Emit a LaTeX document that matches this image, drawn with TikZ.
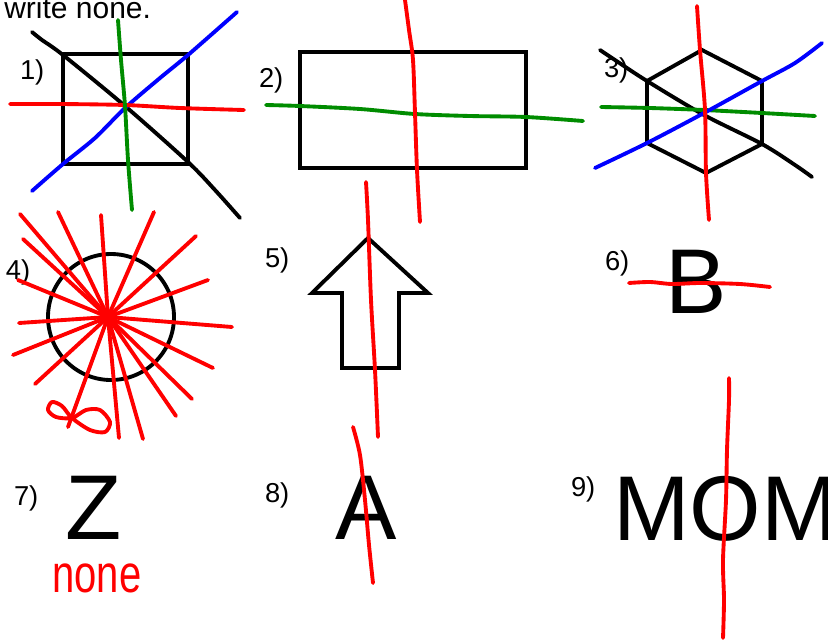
\documentclass[tikz,border=0pt]{standalone}
\usepackage{fontspec}
\setmainfont{Liberation Sans}
\begin{document}
\begin{tikzpicture}[x=0.75pt,y=-0.75pt,
  shapeline/.style={draw=black,line width=2.9pt,line join=miter},
  pen/.style={line width=2.9pt,line cap=round,line join=round},
  redpen/.style={pen,draw={rgb,255:red,255;green,0;blue,0}},
  bluepen/.style={pen,draw={rgb,255:red,0;green,0;blue,255}},
  greenpen/.style={pen,draw={rgb,255:red,0;green,140;blue,0}},
  blackpen/.style={pen,draw=black},
  lbl/.style={anchor=base west,inner sep=0pt,outer sep=0pt,font=\fontsize{20.5}{22}\selectfont},
  big/.style={anchor=base west,inner sep=0pt,outer sep=0pt,font=\fontsize{69}{72}\selectfont}]
\useasboundingbox (0,0) rectangle (828,640);
\fill[white] (0,0) rectangle (828,640);

% title (cut at top)
\node[anchor=base west,inner sep=0pt,font=\fontsize{22.5}{24}\selectfont] (title) at (4,18) {write none.};

% labels
\node[lbl] (l1) at (20,79) {1)};
\node[lbl] (l2) at (259,87) {2)};
\node[lbl] (l3) at (604,77) {3)};
\node[lbl] (l4) at (6,279) {4)};
\node[lbl] (l5) at (265,267) {5)};
\node[lbl] (l6) at (605,270) {6)};
\node[lbl] (l7) at (14,505) {7)};
\node[lbl] (l8) at (265,502) {8)};
\node[lbl] (l9) at (571,496) {9)};

% 1) square
\draw[shapeline] (63,54) rectangle (188,164);
\draw[blackpen] plot[smooth] coordinates {(32,32) (42,40) (63,55) (125,106) (188,162) (215,190) (240,218)};
\draw[bluepen] plot[smooth] coordinates {(32,191) (63,164) (95,138) (125,108) (160,78) (188,55) (237,12)};
\draw[redpen] plot[smooth] coordinates {(10,104) (60,104) (125,105) (180,108) (244,110)};
\draw[greenpen] plot[smooth] coordinates {(118,20) (121,60) (125,106) (128,160) (132,210)};

% 2) rectangle
\draw[shapeline] (300,52) rectangle (526,168);
\draw[greenpen] plot[smooth] coordinates {(266,105) (300,106) (360,109) (415,114) (470,116) (526,117) (583,121)};
\draw[redpen] plot[smooth] coordinates {(405,0) (409,30) (413,60) (415,113) (417,170) (420,222)};

% 3) hexagon
\draw[shapeline] (702,50) -- (762,81) -- (762,144) -- (706,173) -- (647,143) -- (647,81) -- cycle;
\draw[blackpen] plot[smooth] coordinates {(600,50) (615,60) (647,81) (704,115) (762,144) (795,165) (812,177)};
\draw[greenpen] plot[smooth] coordinates {(601,107) (650,108) (704,110) (762,113) (815,116)};
\draw[bluepen] plot[smooth] coordinates {(595,168) (647,143) (704,113) (762,81) (795,63) (822,43)};
\draw[redpen] plot[smooth] coordinates {(697,6) (700,50) (705,110) (706,173) (709,220)};

% 4) circle with rays
\draw[shapeline] (111,317) circle[radius=63];
\coordinate (c4) at (108,317);
\foreach \p in {(20,214),(58,212),(101,215),(154,212),(196,236),(208,280),(232,327),(213,368),(192,399),(176,416),(143,439),(119,438),(68,427),(35,384),(13,355),(19,323),(18,280),(23,239)}
  \draw[redpen] (c4) -- \p;
\draw[redpen] plot[smooth cycle] coordinates {(72,418) (62,406) (52,402) (48,410) (56,417) (72,418) (86,410) (100,410) (110,422) (105,432) (90,430)};

% 5) arrow
\draw[shapeline] (368,238) -- (428,293) -- (399,293) -- (399,368) -- (342,368) -- (342,293) -- (312,293) -- cycle;
\draw[redpen] plot[smooth] coordinates {(366,182) (368,220) (371,300) (375,370) (378,437)};

% 6) B
\node[big] (b6) at (665,313) {B};
\draw[redpen] plot[smooth] coordinates {(629,283) (650,282) (672,284) (700,283) (740,284) (770,287)};

% 7) Z
\node[big] (z7) at (65,539) {Z};
\node[inner sep=0pt,text={rgb,255:red,255;green,0;blue,0},font=\fontsize{40}{42}\selectfont] (none7) at (97,578) {\scalebox{0.75}[1]{none}};

% 8) A
\node[big] (a8) at (335,539) {A};
\draw[redpen] plot[smooth] coordinates {(353,427) (360,455) (365,500) (369,545) (373,583)};

% 9) MOM
\node[big] (m9) at (613,540) {MOM};
\draw[redpen] plot[smooth] coordinates {(729,378) (729,400) (727,450) (726,500) (723,560) (724,600) (723,638)};
\end{tikzpicture}
\end{document}
